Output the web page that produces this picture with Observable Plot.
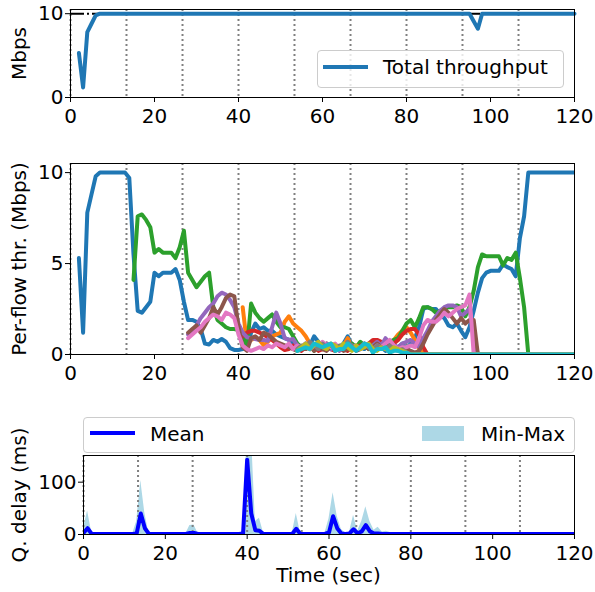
<!DOCTYPE html>
<html>
<head>
<meta charset="utf-8">
<script src="https://cdn.jsdelivr.net/npm/d3@7"></script>
<script src="https://cdn.jsdelivr.net/npm/@observablehq/plot@0.6"></script>
<style>
  html, body { margin: 0; padding: 0; background: white; }
  #root { position: relative; width: 595px; height: 592px; font-family: "DejaVu Sans", sans-serif; background: white; }
  .abs { position: absolute; }
  .legend { position: absolute; box-sizing: border-box; border: 1px solid #cccccc; border-radius: 4px; background: rgba(255,255,255,0.8); }
  .ltext { position: absolute; font-size: 20px; line-height: 20px; white-space: nowrap; color: black; }
</style>
</head>
<body>
<div id="root"></div>
<script>
// ---------- data ----------
const phaseTimes = [0, 13.33, 26.67, 40, 53.33, 66.67, 80, 93.33, 106.67];
const xTicks = [0, 20, 40, 60, 80, 100, 120];
const capacity = 10;

// total throughput (Mbps)
const totalT = [2, 3, 4, 5, 6, 7, 95, 96, 97, 98, 120];
const totalV = [5.3, 1.2, 7.8, 8.8, 9.8, 10, 10, 9.1, 8.2, 10, 10];

// per-flow throughput (Mbps), one value per second from flowStart
const flowColors = ["#1f77b4", "#ff7f0e", "#2ca02c", "#d62728", "#9467bd", "#8c564b", "#e377c2", "#7f7f7f", "#bcbd22", "#17becf"];
const flowStart = [2, 41, 15, 41, 28, 28, 28, 54, 54, 54];
const flowStop = [null, 85, 109, 85, 97, 97, 96, 81, 81, 81];
const flow0 = [5.3,1.2,7.8,8.8,9.8,10,10,10,10,10,
  10,10,9.7,5.5,2.4,2.3,2.6,2.9,4.5,4.3,
  4.5,4.5,4.5,4.7,4.1,2.9,1.9,1.9,1.8,1.4,
  0.6,0.55,0.8,0.7,0.85,0.7,0.35,0.25,0.25,0.3,
  0.4,1.2,1.7,1.4,1.5,1.3,1.3,1.1,1.0,0.9,
  0.8,0.6,0.4,0.3,0.6,0.5,1.0,0.7,0.4,0.6,
  0.3,0.5,0.4,0.6,1.0,0.5,0.3,0.4,0.3,0.5,
  0.2,0.3,0.4,0.2,0.3,0.5,0.4,0.6,0.3,0.6,
  0.9,1.5,2.5,2.6,2.5,2.5,2.2,2.0,1.6,1.5,
  1.7,1.3,0.95,1.5,2.4,3.4,4.2,4.5,4.6,4.6,
  4.6,4.95,4.8,4.7,4.3,6.4,7.6,10,10,10,
  10,10,10,10,10,10,10,10,10];
const flow1 = [2.6,0.6,0.8,0.9,0.8,0.5,0.7,1.0,1.1,1.2,
  1.8,2.1,1.7,1.5,1.3,1.0,0.6,0.4,0.5,0.3,
  0.6,0.4,0.5,0.3,0.5,0.9,0.4,0.3,0.5,0.4,
  0.6,0.5,0.7,0.4,0.6,0.5,0.8,1.1,1.3,1.5,
  1.2,0.8,0.3,0.1];
const flow2 = [4.1,7.6,7.7,7.4,7.0,5.6,5.8,5.6,5.6,5.6,
  5.3,5.9,6.8,4.5,4.1,3.7,4.0,4.3,4.5,2.6,
  1.9,1.7,1.5,1.4,1.4,1.35,1.2,0.3,2.8,2.3,
  2.0,1.8,2.0,2.2,1.8,1.5,1.5,1.4,1.0,0.6,
  0.4,0.3,0.5,0.2,0.4,0.6,0.3,0.5,0.2,0.4,
  0.3,0.5,0.6,0.4,0.7,0.5,0.3,0.6,0.4,0.5,
  0.5,0.7,0.8,0.9,1.3,1.7,1.9,1.5,2.0,2.6,
  2.6,2.5,2.3,2.4,2.5,2.6,2.6,2.7,2.6,2.1,
  2.6,3.5,4.8,5.5,5.4,5.4,5.4,5.4,4.9,5.3,
  5.2,5.6,4.2,2.6];
const flow3 = [1.0,1.2,1.3,1.3,1.2,1.1,0.95,0.8,0.6,0.4,
  0.25,0.3,0.5,0.3,0.2,0.4,0.3,0.5,0.2,0.3,
  0.5,0.3,0.2,0.4,0.3,0.2,0.4,0.3,0.5,0.4,
  0.6,0.8,0.8,0.7,0.6,0.5,0.6,0.8,1.1,1.3,
  1.4,1.4,1.1,0.4];
const flow4 = [1.1,1.3,1.6,2.0,2.3,2.6,2.8,3.2,3.4,3.3,
  3.0,2.6,1.7,1.2,0.95,0.9,0.85,0.8,0.8,0.75,
  1.5,2.3,1.7,0.9,0.8,0.85,0.5,0.4,0.6,0.3,
  0.5,0.3,0.4,0.6,0.3,0.5,0.2,0.4,0.3,0.5,
  0.4,0.3,0.6,0.4,0.5,0.7,0.5,0.9,0.6,0.5,
  0.4,0.6,0.7,0.8,0.6,0.4,0.9,1.3,1.8,2.1,
  2.4,2.6,2.7,2.7,2.6,2.1,2.3,2.5,1.0];
const flow5 = [1.2,1.4,1.6,1.2,1.6,2.0,2.6,2.2,2.6,3.1,
  3.3,3.2,1.5,0.4,0.2,0.9,1.0,0.8,1.2,1.1,
  0.9,0.7,0.6,0.5,0.4,0.3,0.2,0.4,0.3,0.5,
  0.2,0.4,0.3,0.2,0.5,0.3,0.4,0.2,0.3,0.4,
  0.2,0.3,0.5,0.3,0.4,0.6,0.4,0.3,0.5,0.4,
  0.3,0.2,0.3,0.2,0.1,0.2,0.6,1.1,1.5,1.9,
  2.2,2.5,2.3,2.0,1.7,2.0,1.7,1.9,1.9];
const flow6 = [0.9,1.1,1.3,1.5,1.8,2.0,2.2,2.1,1.9,2.3,
  2.2,2.0,1.1,0.5,0.3,0.2,0.3,0.4,0.3,0.5,
  0.4,0.6,0.5,0.4,0.6,0.3,0.5,0.4,0.6,0.3,
  0.5,0.4,0.7,0.5,0.4,0.6,0.3,0.5,0.6,0.4,
  0.5,0.3,0.6,0.4,0.3,0.5,0.4,0.6,0.8,0.5,
  0.3,0.4,0.4,0.5,0.4,0.9,1.6,1.9,1.8,1.8,
  2.0,2.3,2.1,2.3,2.5,2.6,2.7,3.3];
const flow7 = [0.3,0.5,0.4,0.7,0.5,0.3,0.6,0.4,0.5,0.3,
  0.5,0.4,0.7,0.5,0.3,0.4,0.6,0.4,0.3,0.5,
  0.4,0.3,0.5,0.3,0.2,0.3,0.1];
const flow8 = [0.2,0.4,0.6,0.3,0.5,0.7,0.4,0.3,0.6,0.5,
  0.3,0.6,0.4,0.2,0.5,0.3,0.4,0.6,0.3,0.2,
  0.4,0.3,0.2,0.4,0.3,0.2,0.1];
const flow9 = [0.2,0.3,0.4,0.3,0.6,0.5,0.4,0.5,0.6,0.2,
  0.3,0.3,0.6,0.4,0.2,0.4,0.6,0.5,0.1,0.3,
  0.3,0.4,0.1,0.2,0.2,0.1,0.1];
const flowValues = [flow0, flow1, flow2, flow3, flow4, flow5, flow6, flow7, flow8, flow9];

// queuing delay (ms)
const delayT    = [0, 1, 2, 12, 13, 14, 15, 16, 25, 26, 27, 28, 38, 39, 40, 41, 42, 43, 44, 51, 52, 53, 59, 60, 61, 62, 63, 64, 65, 66, 67, 68, 69, 70, 71, 72, 73, 74, 75, 76, 77, 120];
const delayMean = [3, 12, 1, 1, 2, 40, 12, 1, 1, 3, 3, 1, 1, 2, 143, 40, 8, 7, 1, 1, 11, 1, 1, 4, 35, 12, 2, 1, 2, 10, 2, 6, 18, 6, 2, 2, 1, 1, 1, 1, 1, 1];
const delayMin  = [0, 0, 0, 0, 0, 0, 0, 0, 0, 0, 0, 0, 0, 0, 0, 0, 0, 0, 0, 0, 0, 0, 0, 0, 0, 0, 0, 0, 0, 0, 0, 0, 0, 0, 0, 0, 0, 0, 0, 0, 0, 0];
const delayMax  = [12, 45, 4, 1, 25, 103, 40, 2, 1, 17, 18, 2, 1, 6, 200, 200, 25, 31, 3, 2, 40, 4, 2, 30, 80, 35, 10, 3, 4, 37, 6, 25, 53, 25, 8, 14, 5, 6, 4, 3, 2, 1];

// ---------- build tables ----------
const totalRows = totalT.map((t, i) => ({t, v: totalV[i]}));
const flowRows = flowValues.map((vals, f) => {
  const rows = vals.map((v, i) => ({t: flowStart[f] + i, v}));
  if (flowStop[f] != null) { rows.push({t: flowStop[f], v: 0}); rows.push({t: 120, v: 0}); }
  return rows;
});
const delayRows = delayT.map((t, i) => ({t, mean: delayMean[i], min: delayMin[i], max: delayMax[i]}));

// ---------- drawing ----------
const FONT = "DejaVu Sans";
const style = {fontFamily: FONT, fontSize: "20px", color: "black", background: "white", overflow: "visible"};
const dotted = {stroke: "#808080", strokeWidth: 2, strokeDasharray: "2,3"};
const LW = 4;
const root = document.getElementById("root");

function place(svg, top) {
  svg.style.position = "absolute";
  svg.style.left = "0px";
  svg.style.top = top + "px";
  root.appendChild(svg);
}
function ylabel(text, dx) {
  return Plot.text([text], {text: d => d, frameAnchor: "left", textAnchor: "middle", lineAnchor: "middle", rotate: -90, dx, fontSize: 20, fill: "black"});
}

// Panel 1: total throughput
const p1 = Plot.plot({
  width: 595, height: 130,
  marginTop: 9, marginBottom: 33, marginLeft: 70, marginRight: 21,
  x: {domain: [0, 120]},
  y: {domain: [0, 10.5]},
  style,
  marks: [
    Plot.ruleX(phaseTimes, dotted),
    Plot.ruleY([capacity], {stroke: "black", strokeWidth: 2, strokeDasharray: "14,3,2,3"}),
    Plot.lineY(totalRows, {x: "t", y: "v", stroke: flowColors[0], strokeWidth: LW}),
    Plot.axisX({ticks: xTicks, tickSize: 5, tickPadding: 6, fontSize: 20, label: null}),
    Plot.axisY({ticks: [0, 10], tickSize: 5, tickPadding: 2, fontSize: 20, label: null}),
    Plot.frame({stroke: "black", strokeWidth: 1}),
    ylabel("Mbps", -51.4)
  ]
});
place(p1, 0);

// Panel 2: per-flow throughput
const p2 = Plot.plot({
  width: 595, height: 247,
  marginTop: 23, marginBottom: 33, marginLeft: 70, marginRight: 21,
  x: {domain: [0, 120]},
  y: {domain: [0, 10.5]},
  style,
  marks: [
    Plot.ruleX(phaseTimes, dotted),
    ...flowRows.map((rows, f) => Plot.lineY(rows, {x: "t", y: "v", stroke: flowColors[f], strokeWidth: LW, clip: true})),
    Plot.axisX({ticks: xTicks, tickSize: 5, tickPadding: 6, fontSize: 20, label: null}),
    Plot.axisY({ticks: [0, 5, 10], tickSize: 5, tickPadding: 2, fontSize: 20, label: null}),
    Plot.frame({stroke: "black", strokeWidth: 1}),
    ylabel("Per-flow thr. (Mbps)", -51.4)
  ]
});
place(p2, 140);

// Panel 3: queuing delay
const p3 = Plot.plot({
  width: 595, height: 192,
  marginTop: 55, marginBottom: 58, marginLeft: 83, marginRight: 21,
  x: {domain: [0, 120]},
  y: {domain: [0, 151]},
  style,
  marks: [
    Plot.areaY(delayRows, {x: "t", y1: "min", y2: "max", fill: "lightblue", clip: true}),
    Plot.ruleX(phaseTimes, dotted),
    Plot.lineY(delayRows, {x: "t", y: "mean", stroke: "blue", strokeWidth: LW, clip: true}),
    Plot.axisX({ticks: xTicks, tickSize: 5, tickPadding: 6, fontSize: 20, label: null}),
    Plot.axisY({ticks: [0, 100], tickSize: 5, tickPadding: 2, fontSize: 20, label: null}),
    Plot.frame({stroke: "black", strokeWidth: 1}),
    ylabel("Q. delay (ms)", -64.4)
  ]
});
place(p3, 400);

// ---------- legends and x label (HTML) ----------
function div(cls, css, text) {
  const d = document.createElement("div");
  d.className = cls;
  Object.assign(d.style, css);
  if (text) d.textContent = text;
  root.appendChild(d);
  return d;
}
// legend panel 1
div("legend", {left: "317px", top: "50px", width: "247px", height: "38px"});
div("abs", {left: "323px", top: "65px", width: "45px", height: "4px", background: flowColors[0]});
div("ltext", {left: "383px", top: "57px"}, "Total throughput");
// legend panel 3
div("legend", {left: "83px", top: "417px", width: "492px", height: "36px"});
div("abs", {left: "90px", top: "431px", width: "45px", height: "4px", background: "blue"});
div("ltext", {left: "150px", top: "424px"}, "Mean");
div("abs", {left: "422px", top: "426px", width: "42px", height: "15px", background: "lightblue"});
div("ltext", {left: "481px", top: "424px"}, "Min-Max");
// x label
div("ltext", {left: "83px", width: "491px", top: "565px", textAlign: "center"}, "Time (sec)");
</script>
</body>
</html>
